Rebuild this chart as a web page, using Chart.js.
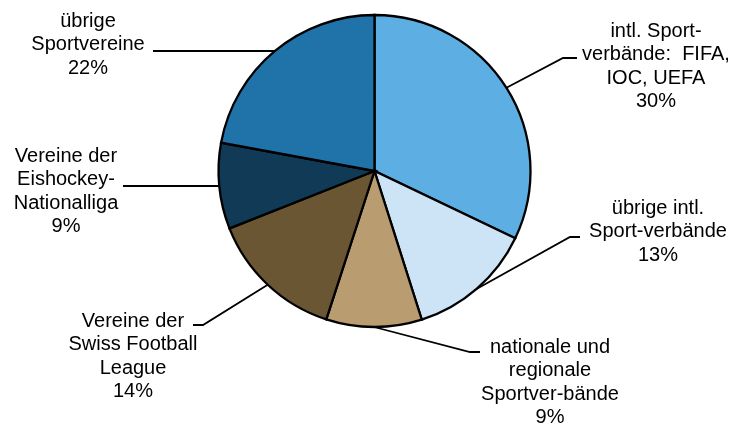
<!DOCTYPE html>
<html>
<head>
<meta charset="utf-8">
<script src="https://cdn.jsdelivr.net/npm/chart.js@4/dist/chart.umd.min.js"></script>
<style>
html,body{margin:0;padding:0;background:#fff;}
#wrap{width:734px;height:426px;}
</style>
</head>
<body>
<div id="wrap"><canvas id="c" width="734" height="426"></canvas></div>
<script>
const categories = [
  ["intl. Sport-", "verbände:  FIFA,", "IOC, UEFA"],
  ["übrige intl.", "Sport-verbände"],
  ["nationale und", "regionale", "Sportver-bände"],
  ["Vereine der", "Swiss Football", "League"],
  ["Vereine der", "Eishockey-", "Nationalliga"],
  ["übrige", "Sportvereine"]
];
const shares = [32.1, 13.0, 9.9, 14.0, 8.9, 22.1];
const percentLabels = ["30%", "13%", "9%", "14%", "9%", "22%"];
const sliceColors = ["#5DAEE3", "#CCE4F6", "#B99D70", "#6B5634", "#113A57", "#1F73A9"];

// label placement (layout only)
const labelLayout = [
  {cx: 656, cy: 31, elbow: [563, 58], end: [577, 58]},
  {cx: 658, cy: 208, elbow: [570, 237], end: [580, 237]},
  {cx: 550, cy: 347, elbow: [470, 352], end: [480, 352]},
  {cx: 133, cy: 321, elbow: [203, 325], end: [193, 325]},
  {cx: 66, cy: 156, elbow: null, end: [123, 186]},
  {cx: 88, cy: 21, elbow: null, end: [153, 51]}
];

const leaderPlugin = {
  id: 'leaders',
  afterDatasetsDraw(chart) {
    const ctx = chart.ctx;
    const meta = chart.getDatasetMeta(0);
    ctx.save();
    meta.data.forEach((arc, i) => {
      const p = arc.getProps(['x', 'y', 'startAngle', 'endAngle', 'outerRadius'], true);
      const mid = (p.startAngle + p.endAngle) / 2;
      const sx = p.x + Math.cos(mid) * p.outerRadius;
      const sy = p.y + Math.sin(mid) * p.outerRadius;
      const L = labelLayout[i];
      ctx.strokeStyle = '#000';
      ctx.lineWidth = 1.8;
      ctx.beginPath();
      if (L.elbow) {
        ctx.moveTo(sx, sy);
        ctx.lineTo(L.elbow[0], L.elbow[1]);
        ctx.lineTo(L.end[0], L.end[1]);
      } else {
        ctx.moveTo(sx, L.end[1]);
        ctx.lineTo(L.end[0], L.end[1]);
      }
      ctx.stroke();
      const lines = categories[i].concat([percentLabels[i]]);
      ctx.fillStyle = '#000';
      ctx.font = '20px "Liberation Sans", Arial, sans-serif';
      ctx.textAlign = 'center';
      ctx.textBaseline = 'middle';
      lines.forEach((t, k) => {
        ctx.fillText(t, L.cx, L.cy + k * 23.5);
      });
    });
    ctx.restore();
  }
};

new Chart(document.getElementById('c'), {
  type: 'pie',
  data: {
    labels: categories.map(c => c.join(' ')),
    datasets: [{
      data: shares,
      backgroundColor: sliceColors,
      borderColor: '#000',
      borderWidth: 2.3,
      borderJoinStyle: 'miter'
    }]
  },
  options: {
    responsive: false,
    animation: false,
    radius: 156,
    layout: {padding: {left: 15, right: 0, top: 0, bottom: 84}},
    plugins: {legend: {display: false}, tooltip: {enabled: false}}
  },
  plugins: [leaderPlugin]
});
</script>
</body>
</html>
